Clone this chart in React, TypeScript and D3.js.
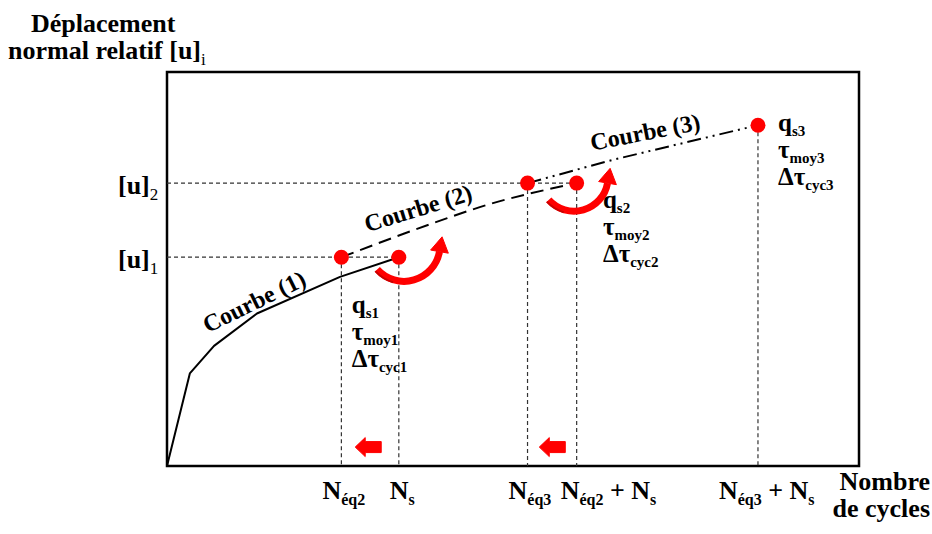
import React from "react";
import * as d3 from "d3";

// ---- data (abstract units) ----
const curve1: [number, number][] = [[0, 0], [0.33, 2.35], [0.68, 3.05], [1.3, 3.87], [2.5, 4.8], [3.35, 5.3]];
const curve2: [number, number][] = [[2.52, 5.3], [4.05, 6.29], [4.52, 6.57], [5.92, 7.18]];
const curve3: [number, number][] = [[5.21, 7.18], [6.44, 7.77], [8.54, 8.65]];
const dots: [number, number][] = [[2.52, 5.3], [3.35, 5.3], [5.21, 7.18], [5.92, 7.18], [8.54, 8.65]];
const uLevels = [5.3, 7.18];
const uLevelEnds = [3.35, 5.92];
const uLabels = ["1", "2"];
const tickValues = [2.52, 3.35, 5.21, 5.92, 8.54];
const tickLabels: [string, string][][] = [
  [["N", "éq2"]],
  [["N", "s"]],
  [["N", "éq3"]],
  [["N", "éq2"], [" + N", "s"]],
  [["N", "éq3"], [" + N", "s"]],
];
const curveNames = ["Courbe (1)", "Courbe (2)", "Courbe (3)"];
const curveNamePos: [number, number, number][] = [[1.26, 4.17, -26], [3.63, 6.54, -17], [6.91, 8.47, -11]];
const paramLabels: [string, string][][] = [
  [["q", "s1"], ["τ", "moy1"], ["Δτ", "cyc1"]],
  [["q", "s2"], ["τ", "moy2"], ["Δτ", "cyc2"]],
  [["q", "s3"], ["τ", "moy3"], ["Δτ", "cyc3"]],
];
const paramPos: [number, number][] = [[2.67, 3.88], [6.3, 6.55], [8.83, 8.5]];
const shiftArrows: [number, number][] = [[2.72, 0.48], [5.38, 0.48]];
const curvedArrows: [number, number, number][] = [[3.425, 5.6, 36], [5.882, 7.33, 34]];

const W = 932, H = 534;
const FONT = "'Liberation Serif', 'Times New Roman', serif";

export default function App() {
  const x = d3.scaleLinear().domain([0, 10]).range([167, 859]);
  const y = d3.scaleLinear().domain([0, 10]).range([466, 72]);
  const line = d3.line<[number, number]>().x(d => x(d[0])).y(d => y(d[1]));
  const smooth = d3.line<[number, number]>().x(d => x(d[0])).y(d => y(d[1])).curve(d3.curveMonotoneX);

  const tickDx = [-19, -9, -19, -16, -39];

  const sub = (main: string, s: string, key: number, big = 26, small = 16, subDy = 6, subWeight: any = "bold") => [
    <tspan key={key + "m"} fontSize={big} dy={key === 0 ? 0 : -subDy}>{main}</tspan>,
    <tspan key={key + "s"} fontSize={small} dy={subDy} fontWeight={subWeight}>{s}</tspan>,
  ];

  const arcPath = (cx: number, cy: number, r: number, a0: number, a1: number) => {
    const p = d3.path();
    p.arc(cx, cy, r, a0, a1, true);
    return p.toString();
  };

  return (
    <svg width={W} height={H} style={{ position: "absolute", left: 0, top: 0, background: "#fff" }} fontFamily={FONT} fontWeight="bold">
      <rect x={0} y={0} width={W} height={H} fill="#fff" />
      {/* frame */}
      <rect x={x(0)} y={y(10)} width={x(10) - x(0)} height={y(0) - y(10)} fill="none" stroke="#000" strokeWidth={2.5} />

      {/* reference lines */}
      {uLevels.map((u, i) => (
        <line key={"h" + i} x1={x(0)} x2={x(uLevelEnds[i])} y1={y(u)} y2={y(u)} stroke="#333" strokeWidth={1.2} strokeDasharray="4,3" />
      ))}
      {dots.map((d, i) => (
        <line key={"v" + i} x1={x(tickValues[i])} x2={x(tickValues[i])} y1={y(d[1])} y2={y(0)} stroke="#333" strokeWidth={1.2} strokeDasharray="4,3" />
      ))}

      {/* curves */}
      <path d={line(curve1) as string} fill="none" stroke="#000" strokeWidth={2} strokeLinejoin="round" />
      <path d={smooth(curve2) as string} fill="none" stroke="#000" strokeWidth={2} strokeDasharray="13,7" />
      <path d={line(curve3) as string} fill="none" stroke="#000" strokeWidth={2} strokeDasharray="14,5,2,5,2,5" />

      {/* dots */}
      {dots.map((d, i) => (
        <circle key={"d" + i} cx={x(d[0])} cy={y(d[1])} r={7.5} fill="#f00" />
      ))}

      {/* curved arrows */}
      {curvedArrows.map((c, i) => {
        const cx = x(c[0]), cy = y(c[1]), r = c[2];
        const a0 = (138 * Math.PI) / 180, a1 = (10 * Math.PI) / 180;
        const ex = cx + r * Math.cos(a1), ey = cy + r * Math.sin(a1);
        const tx = Math.sin(a1), ty = -Math.cos(a1);
        const nx = -ty, ny = tx;
        const head = [
          [ex + nx * 9, ey + ny * 9],
          [ex + tx * 15, ey + ty * 15],
          [ex - nx * 9, ey - ny * 9],
        ];
        return (
          <g key={"ca" + i}>
            <path d={arcPath(cx, cy, r, a0, a1)} fill="none" stroke="#f00" strokeWidth={7} />
            <path d={arcPath(cx, cy, r + 2.5, a0, a0 - 0.55)} fill="none" stroke="#c00" strokeWidth={2} />
            <polygon points={head.map(p => p.join(",")).join(" ")} fill="#f00" stroke="#f00" strokeWidth={1} strokeLinejoin="round" />
          </g>
        );
      })}

      {/* shift arrows */}
      {shiftArrows.map((a, i) => {
        const tx = x(a[0]), ty = y(a[1]);
        const pts = [
          [tx, ty], [tx + 10, ty - 9.5], [tx + 10, ty - 5.5], [tx + 26, ty - 5.5],
          [tx + 26, ty + 5.5], [tx + 10, ty + 5.5], [tx + 10, ty + 9.5],
        ];
        return <polygon key={"sa" + i} points={pts.map(p => p.join(",")).join(" ")} fill="#f00" stroke="#f00" strokeWidth={1} strokeLinejoin="round" />;
      })}

      {/* curve names */}
      {curveNames.map((n, i) => {
        const [cxv, cyv, ang] = curveNamePos[i];
        return (
          <text key={"cn" + i} x={0} y={0} transform={`translate(${x(cxv)},${y(cyv)}) rotate(${ang})`} textAnchor="middle" dominantBaseline="central" fontSize={24}>
            {n}
          </text>
        );
      })}

      {/* parameter labels */}
      {paramLabels.map((grp, gi) => (
        <g key={"pg" + gi}>
          {grp.map((l, li) => (
            <text key={li} x={x(paramPos[gi][0])} y={y(paramPos[gi][1]) + li * 27}>
              {sub(l[0], l[1], 0, 25, 15, 5)}
            </text>
          ))}
        </g>
      ))}

      {/* y level labels */}
      {uLevels.map((u, i) => (
        <text key={"ul" + i} x={118} y={y(u) + 11}>
          {sub("[u]", uLabels[i], 0, 26, 17, 6, "normal")}
        </text>
      ))}

      {/* x tick labels */}
      {tickLabels.map((parts, i) => (
        <text key={"tl" + i} x={x(tickValues[i]) + tickDx[i]} y={499}>
          {parts.flatMap((p, k) => sub(p[0], p[1], k))}
        </text>
      ))}

      {/* axis titles */}
      <text x={31} y={32} fontSize={26}>Déplacement</text>
      <text x={8} y={59}>
        {sub("normal relatif [u]", "i", 0, 26, 17, 6, "normal")}
      </text>
      <text x={930} y={490} textAnchor="end" fontSize={26}>Nombre</text>
      <text x={930} y={517} textAnchor="end" fontSize={26}>de cycles</text>
    </svg>
  );
}
